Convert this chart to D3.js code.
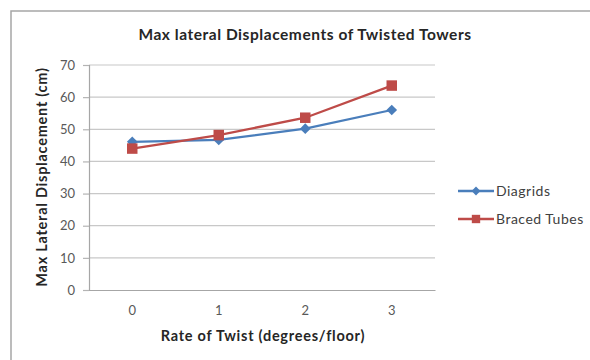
<!DOCTYPE html>
<html>
<head>
<meta charset="utf-8">
<script src="https://cdn.jsdelivr.net/npm/d3@7"></script>
<style>
  html, body { margin: 0; padding: 0; background: #fff; }
  svg { display: block; }
  text { font-family: Lato, "Open Sans", sans-serif; }
</style>
</head>
<body>
<svg id="chart" width="590" height="360"></svg>
<script>
// Twist rates (degrees/floor) along the x axis
const categories = ["0", "1", "2", "3"];
// Max lateral displacement (cm) per tower system
const diagrids = [46.1, 46.7, 50.2, 56.0];
const bracedTubes = [44.0, 48.2, 53.6, 63.6];
const yTicks = [0, 10, 20, 30, 40, 50, 60, 70];
const seriesNames = ["Diagrids", "Braced Tubes"];

const series = [
  { name: seriesNames[0], values: diagrids, color: "#4a7ebb", marker: "diamond" },
  { name: seriesNames[1], values: bracedTubes, color: "#be4b48", marker: "square" }
];

const svg = d3.select("#chart");

// Chart-area frame
svg.append("rect")
  .attr("x", 11).attr("y", 11)
  .attr("width", 600).attr("height", 400)
  .attr("fill", "#fff")
  .attr("stroke", "#a6a6a6")
  .attr("stroke-width", 1.5);

const plot = { left: 89, right: 435, top: 65, bottom: 290 };

const x = d3.scaleBand()
  .domain(categories)
  .range([plot.left, plot.right]);

const y = d3.scaleLinear()
  .domain([0, 70])
  .range([plot.bottom, plot.top]);

// Horizontal gridlines
svg.append("g")
  .selectAll("line")
  .data(yTicks.filter(d => d > 0))
  .join("line")
  .attr("x1", plot.left).attr("x2", plot.right)
  .attr("y1", d => y(d)).attr("y2", d => y(d))
  .attr("stroke", "#c8c8c8")
  .attr("stroke-width", 1.2);

// Y axis
const yAxis = svg.append("g")
  .attr("transform", `translate(${plot.left},0)`)
  .call(d3.axisLeft(y).tickValues(yTicks).tickSize(6).tickPadding(8));
yAxis.select(".domain").attr("stroke", "#a6a6a6").attr("stroke-width", 1.2);
yAxis.selectAll(".tick line").attr("stroke", "#b4b4b4").attr("stroke-width", 1.2);
yAxis.selectAll(".tick text")
  .attr("fill", "#595959")
  .style("font-size", "13px")
  .style("font-family", "Lato, sans-serif");

// X axis
const xAxis = svg.append("g")
  .attr("transform", `translate(0,${plot.bottom})`)
  .call(d3.axisBottom(x).tickSize(0).tickPadding(16));
xAxis.select(".domain").attr("stroke", "#a6a6a6").attr("stroke-width", 1.2);
xAxis.selectAll(".tick text")
  .attr("fill", "#595959")
  .style("font-size", "13px")
  .style("font-family", "Lato, sans-serif");

// Series lines
const line = d3.line()
  .x((d, i) => x(categories[i]) + x.bandwidth() / 2)
  .y(d => y(d));

series.forEach(s => {
  svg.append("path")
    .datum(s.values)
    .attr("d", line)
    .attr("fill", "none")
    .attr("stroke", s.color)
    .attr("stroke-width", 2.3);
});

const diamond = d3.symbol().type(d3.symbolDiamond2).size(72);
const square = d3.symbol().type(d3.symbolSquare).size(110);

// Series markers
series.forEach(s => {
  svg.append("g")
    .selectAll("path")
    .data(s.values)
    .join("path")
    .attr("transform", (d, i) => `translate(${x(categories[i]) + x.bandwidth() / 2},${y(d)})`)
    .attr("d", s.marker === "diamond" ? diamond : square)
    .attr("fill", s.color);
});

// Title
svg.append("text")
  .attr("x", 305).attr("y", 40)
  .attr("text-anchor", "middle")
  .attr("fill", "#262626")
  .style("font-size", "15.5px")
  .style("letter-spacing", "0.55px")
  .style("font-weight", "bold")
  .text("Max lateral Displacements of Twisted Towers");

// Axis titles
svg.append("text")
  .attr("transform", "translate(47,177) rotate(-90)")
  .attr("text-anchor", "middle")
  .attr("fill", "#262626")
  .style("font-size", "14.5px")
  .style("letter-spacing", "0.75px")
  .style("font-weight", "bold")
  .text("Max Lateral Displacement (cm)");

svg.append("text")
  .attr("x", 263).attr("y", 341)
  .attr("text-anchor", "middle")
  .attr("fill", "#262626")
  .style("font-size", "14.5px")
  .style("letter-spacing", "0.75px")
  .style("font-weight", "bold")
  .text("Rate of Twist (degrees/floor)");

// Legend
const legend = svg.append("g");
series.forEach((s, i) => {
  const ly = 191 + i * 28;
  legend.append("line")
    .attr("x1", 458).attr("x2", 494)
    .attr("y1", ly).attr("y2", ly)
    .attr("stroke", s.color)
    .attr("stroke-width", 2.3);
  legend.append("path")
    .attr("transform", `translate(476,${ly})`)
    .attr("d", s.marker === "diamond" ? d3.symbol().type(d3.symbolDiamond2).size(50)() : d3.symbol().type(d3.symbolSquare).size(70)())
    .attr("fill", s.color);
  legend.append("text")
    .attr("x", 496).attr("y", ly)
    .attr("dy", "0.35em")
    .attr("fill", "#404040")
    .style("font-size", "14px")
    .style("letter-spacing", "0.5px")
    .text(s.name);
});
</script>
</body>
</html>
